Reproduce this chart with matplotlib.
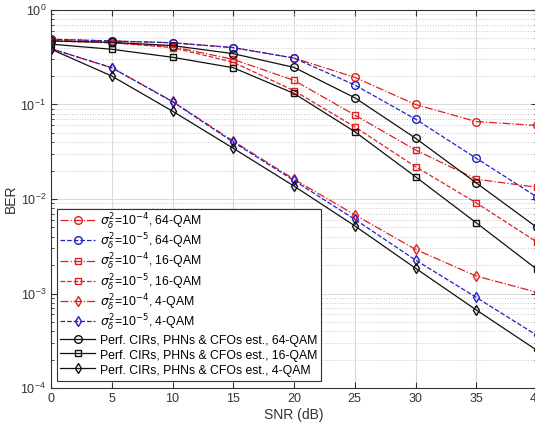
import matplotlib
matplotlib.use("Agg")
import matplotlib.pyplot as plt
from matplotlib.ticker import LogLocator, FixedLocator

snr = [0, 5, 10, 15, 20, 25, 30, 35, 40]

ber_64_e4 = [0.49, 0.47, 0.45, 0.40, 0.31, 0.194, 0.100, 0.066, 0.060]
ber_64_e5 = [0.49, 0.47, 0.45, 0.40, 0.31, 0.161, 0.070, 0.027, 0.0105]
ber_16_e4 = [0.48, 0.45, 0.41, 0.30, 0.18, 0.0774, 0.033, 0.0162, 0.0133]
ber_16_e5 = [0.47, 0.45, 0.40, 0.28, 0.14, 0.058, 0.022, 0.0091, 0.0035]
ber_4_e4 = [0.39, 0.245, 0.108, 0.041, 0.0162, 0.0068, 0.00293, 0.00153, 0.00103]
ber_4_e5 = [0.39, 0.245, 0.107, 0.040, 0.0157, 0.0061, 0.00226, 0.00091, 0.00036]
ber_64_perf = [0.47, 0.455, 0.42, 0.345, 0.247, 0.118, 0.044, 0.0148, 0.005]
ber_16_perf = [0.435, 0.384, 0.316, 0.245, 0.131, 0.0516, 0.0172, 0.0056, 0.0018]
ber_4_perf = [0.385, 0.2, 0.085, 0.0344, 0.0137, 0.0052, 0.00185, 0.00067, 0.00025]

labels = [
    r"$\sigma_\delta^2$=10$^{-4}$, 64-QAM",
    r"$\sigma_\delta^2$=10$^{-5}$, 64-QAM",
    r"$\sigma_\delta^2$=10$^{-4}$, 16-QAM",
    r"$\sigma_\delta^2$=10$^{-5}$, 16-QAM",
    r"$\sigma_\delta^2$=10$^{-4}$, 4-QAM",
    r"$\sigma_\delta^2$=10$^{-5}$, 4-QAM",
    "Perf. CIRs, PHNs & CFOs est., 64-QAM",
    "Perf. CIRs, PHNs & CFOs est., 16-QAM",
    "Perf. CIRs, PHNs & CFOs est., 4-QAM",
]

plt.rcParams['font.family'] = ['Liberation Sans', 'DejaVu Sans']
plt.rcParams['mathtext.fontset'] = 'dejavusans'

RED = '#e02020'
BLUE = '#2020c8'
BLK = '#111111'

series = [
    (ber_64_e4, RED, '-.', 'o'),
    (ber_64_e5, BLUE, '--', 'o'),
    (ber_16_e4, RED, '-.', 's'),
    (ber_16_e5, RED, '--', 's'),
    (ber_4_e4, RED, '-.', 'd'),
    (ber_4_e5, BLUE, '--', 'd'),
    (ber_64_perf, BLK, '-', 'o'),
    (ber_16_perf, BLK, '-', 's'),
    (ber_4_perf, BLK, '-', 'd'),
]

fig = plt.figure(figsize=(5.35, 4.23), dpi=100)
ax = fig.add_axes([51/535, 35/423, 486/535, 378/423])

for (vals, c, ls, m), lab in zip(series, labels):
    ax.semilogy(snr, vals, color=c, linestyle=ls, marker=m, markersize=5.5 if m != 's' else 4.8,
                markerfacecolor='none', markeredgecolor=c, linewidth=0.9, label=lab)

ax.set_xlim(0, 40)
ax.set_ylim(1e-4, 1)
ax.xaxis.set_major_locator(FixedLocator(snr))
ax.yaxis.set_major_locator(LogLocator(base=10, numticks=10))
ax.yaxis.set_minor_locator(LogLocator(base=10, subs=range(2, 10), numticks=10))
ax.grid(True, which='major', color='#d8d8d8', linestyle='-', linewidth=0.7)
ax.grid(True, which='minor', axis='y', color='#cccccc', linestyle=':', linewidth=0.7)
ax.tick_params(which='both', direction='in', top=True, right=True, colors='#333333', labelsize=9)
ax.tick_params(which='major', length=4)
ax.tick_params(which='minor', length=2)
for s in ax.spines.values():
    s.set_color('#333333')
    s.set_linewidth(0.8)

ax.set_xlabel('SNR (dB)', fontsize=10, color='#333333', labelpad=2)
ax.set_ylabel('BER', fontsize=10, color='#333333', labelpad=2)

leg = ax.legend(loc='lower left', bbox_to_anchor=(0.012, 0.018), fontsize=8.8,
                handlelength=2.8, handleheight=1.5, borderpad=0.3, labelspacing=0.0,
                handletextpad=0.4, fancybox=False, framealpha=1, edgecolor='#333333',
                borderaxespad=0)
leg.get_frame().set_linewidth(0.8)

fig.savefig('out.png', dpi=100)
